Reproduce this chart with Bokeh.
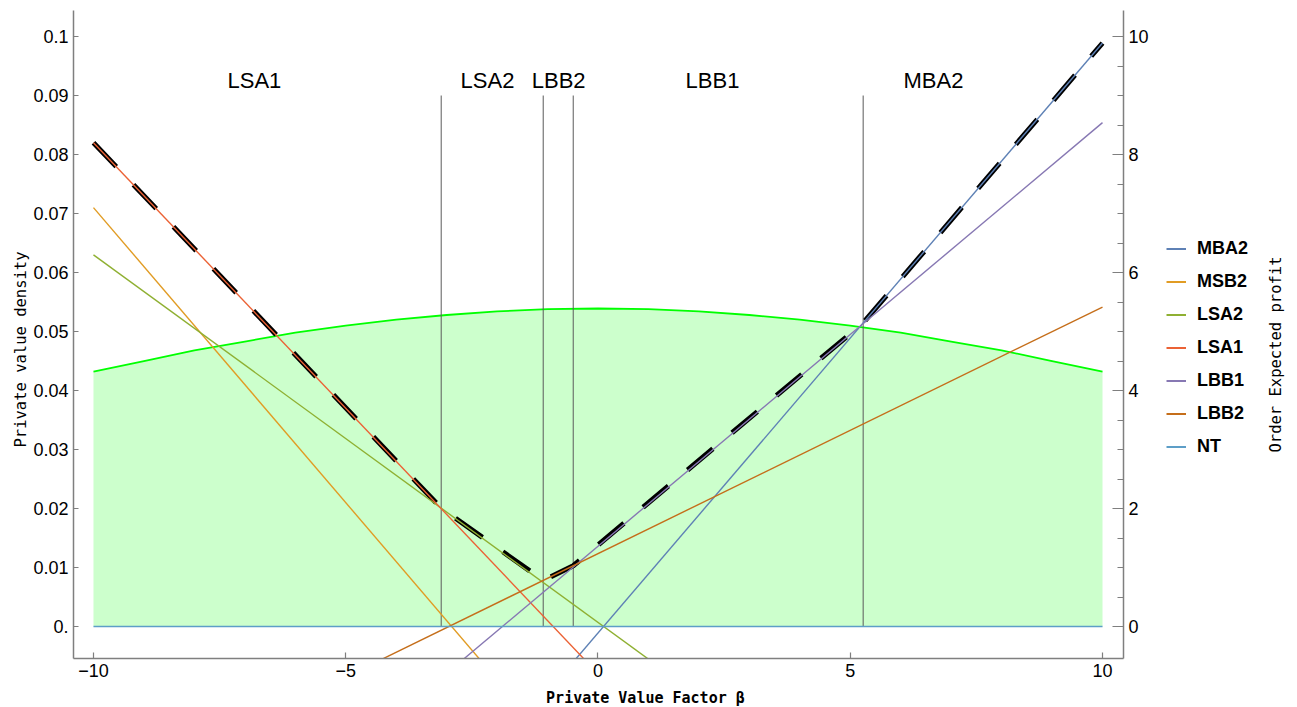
import math
from bokeh.plotting import figure
from bokeh.layouts import row, column
from bokeh.models import (Range1d, LinearAxis, FixedTicker, Legend, LegendItem,
                          Title, Label, ColumnDataSource)
from bokeh.embed import file_html
from bokeh.resources import INLINE
from bokeh.core.properties import value

# ---------------- data ----------------
strategies = ["MBA2", "MSB2", "LSA2", "LSA1", "LBB1", "LBB2", "NT"]
colors = ["#5E81B5", "#E19C24", "#8FB032", "#EB6235", "#8778B3", "#C56E1A", "#5D9EC7"]
beta_ends = [-10, 10]
# expected profit of each strategy at beta = -10 and beta = +10 (lines are straight)
profit_at_start = [-10.11, 7.10, 6.30, 8.20, -5.82, -2.945, 0.0]
profit_at_end = [9.89, -12.90, -6.16, -9.80, 8.54, 5.415, 0.0]

density_beta = [-10, -9, -8, -7, -6, -5, -4, -3, -2, -1, 0,
                1, 2, 3, 4, 5, 6, 7, 8, 9, 10]
density_values = [0.0432, 0.0450, 0.0468, 0.0483, 0.0498, 0.0510, 0.0520,
                  0.0528, 0.0534, 0.0538, 0.0539, 0.0538, 0.0534, 0.0528,
                  0.0520, 0.0510, 0.0498, 0.0483, 0.0468, 0.0450, 0.0432]

region_names = ["LSA1", "LSA2", "LBB2", "LBB1", "MBA2"]
region_label_beta = [-6.81, -2.19, -0.78, 2.27, 6.65]
region_bounds = [-3.108, -1.086, -0.491, 5.256]
bound_top = 0.09
region_label_y = 0.0925

x_ticks = [-10, -5, 0, 5, 10]
x_tick_labels = ["\u221210", "\u22125", "0", "5", "10"]
left_ticks = [0, 0.01, 0.02, 0.03, 0.04, 0.05, 0.06, 0.07, 0.08, 0.09, 0.1]
left_tick_labels = ["0.", "0.01", "0.02", "0.03", "0.04", "0.05", "0.06",
                    "0.07", "0.08", "0.09", "0.1"]
right_ticks = [0, 2, 4, 6, 8, 10]
right_tick_labels = ["0", "2", "4", "6", "8", "10"]
right_minor_ticks = [0.5, 1, 1.5, 2.5, 3, 3.5, 4.5, 5, 5.5, 6.5, 7, 7.5,
                     8.5, 9, 9.5]


def profit(i, b):
    s, e = profit_at_start[i], profit_at_end[i]
    return s + (e - s) * (b - beta_ends[0]) / (beta_ends[1] - beta_ends[0])


env_x = [beta_ends[0]] + region_bounds + [beta_ends[1]]
env_y = [max(profit(i, b) for i in range(len(strategies))) for b in env_x]

# ---------------- geometry (pixels) ----------------
W, H = 1297, 707
H_STRIP = 22                 # strip at the bottom for the x-axis title
H1 = H - H_STRIP             # height of the upper row
W1 = 1153                    # main figure width; the rest holds legend + right title
F_LEFT, F_RIGHT, F_TOP, F_BOTTOM = 73, 1123, 10, 658

# ---------------- main figure ----------------
xr = Range1d(-10.396, 10.416)
p = figure(width=W1, height=H1, x_range=xr,
           y_range=Range1d(-0.005424, 0.10441),
           output_backend="svg", toolbar_location=None,
           min_border_left=F_LEFT, min_border_right=W1 - F_RIGHT,
           min_border_top=F_TOP, min_border_bottom=H1 - F_BOTTOM)
p.extra_y_ranges = {"profit": Range1d(-0.5424, 10.441)}
p.outline_line_color = None
p.xgrid.visible = False
p.ygrid.visible = False
p.background_fill_color = "white"

AX_COL = "#7f7f7f"
TICK_FONT = "Liberation Sans"
LAB_FONT = "DejaVu Sans Mono"

xa = p.xaxis[0]
xa.ticker = FixedTicker(ticks=x_ticks, minor_ticks=[])
xa.major_label_overrides = dict(zip(x_ticks, x_tick_labels))
xa.major_tick_in = 6
xa.major_tick_out = 0
xa.minor_tick_line_color = None
xa.major_label_standoff = 5

ya = p.yaxis[0]
ya.ticker = FixedTicker(ticks=left_ticks, minor_ticks=[])
ya.major_label_overrides = dict(zip(left_ticks, left_tick_labels))
ya.major_tick_in = 5
ya.major_tick_out = 0
ya.minor_tick_line_color = None
ya.major_label_standoff = 5

ra = LinearAxis(y_range_name="profit",
                ticker=FixedTicker(ticks=right_ticks, minor_ticks=right_minor_ticks))
ra.major_label_overrides = dict(zip(right_ticks, right_tick_labels))
ra.major_tick_in = 11
ra.major_tick_out = 0
ra.minor_tick_in = 6
ra.minor_tick_out = 0
ra.major_label_standoff = 5
p.add_layout(ra, "right")

for ax in (xa, ya, ra):
    ax.axis_line_color = AX_COL
    ax.axis_line_width = 1.5
    ax.major_tick_line_color = AX_COL
    ax.major_tick_line_width = 1.2
    ax.minor_tick_line_width = 1.2
    ax.major_label_text_font = TICK_FONT
    ax.major_label_text_font_size = "18px"
    ax.major_label_text_color = "black"
ra.minor_tick_line_color = AX_COL

# density area
p.varea(x=density_beta, y1=[0] * len(density_beta), y2=density_values,
        fill_color="#ccffcc")
p.line(x=density_beta, y=density_values, line_color="#00ff00", line_width=1.8)

# region boundaries
p.segment(x0=region_bounds, y0=[0] * len(region_bounds),
          x1=region_bounds, y1=[bound_top] * len(region_bounds),
          line_color="#5a5a5a", line_width=1.0)

# envelope (dashed black)
p.line(x=env_x, y=env_y, y_range_name="profit", line_color="black",
       line_width=5, line_dash="33 25")

# strategy lines
for i, name in enumerate(strategies):
    ys = [profit(i, b) for b in beta_ends]
    p.line(x=beta_ends, y=ys, y_range_name="profit",
           line_color=colors[i], line_width=1.4)

# region labels
src = ColumnDataSource(dict(x=region_label_beta,
                            y=[region_label_y] * len(region_names),
                            t=region_names))
p.text(x="x", y="y", text="t", source=src, text_align="center",
       text_baseline="middle", text_font=value("Liberation Sans"),
       text_font_size="22px", text_color="black")

# left axis title
p.add_layout(Title(text="Private value density", align="left", offset=211,
                   text_font=LAB_FONT, text_font_size="15.5px",
                   text_font_style="normal", text_color="black",
                   standoff=2), "left")

# ---------------- side figure: legend + right title ----------------
W2 = W - W1
q = figure(width=W2, height=H1, x_range=Range1d(0, W2),
           y_range=Range1d(0, F_BOTTOM - F_TOP),
           output_backend="svg", toolbar_location=None,
           x_axis_type=None, y_axis_type=None,
           min_border_left=0, min_border_right=0,
           min_border_top=F_TOP, min_border_bottom=H1 - F_BOTTOM)
q.outline_line_color = None
q.xgrid.visible = False
q.ygrid.visible = False

nan = float("nan")
items = []
for i, name in enumerate(strategies):
    r = q.line(x=[nan, nan], y=[nan, nan], line_color=colors[i], line_width=2)
    items.append(LegendItem(label=name, renderers=[r]))
legend = Legend(items=items, location=(13, 201.5))
legend.label_text_font = "Liberation Sans"
legend.label_text_font_style = "bold"
legend.label_text_font_size = "18px"
legend.label_text_color = "black"
legend.glyph_width = 20
legend.glyph_height = 21
legend.label_height = 21
legend.spacing = 12
legend.padding = 0
legend.margin = 0
legend.label_standoff = 11
legend.border_line_color = None
legend.background_fill_alpha = 0
q.add_layout(legend)

q.add_layout(Label(x=1275 - W1, y=F_BOTTOM - 354, text="Order Expected profit",
                   angle=math.pi / 2, text_align="center", text_baseline="middle",
                   text_font=LAB_FONT, text_font_size="15.5px",
                   text_color="black"))

# ---------------- bottom strip: x-axis title ----------------
s = figure(width=W, height=H_STRIP, x_range=xr, y_range=Range1d(0, H_STRIP),
           output_backend="svg", toolbar_location=None,
           x_axis_type=None, y_axis_type=None,
           min_border_left=F_LEFT, min_border_right=W - F_RIGHT,
           min_border_top=0, min_border_bottom=0)
s.outline_line_color = None
s.xgrid.visible = False
s.ygrid.visible = False
s.add_layout(Label(x=0.94, y=9.5, text="Private Value Factor \u03b2",
                   text_align="center", text_baseline="middle",
                   text_font=LAB_FONT, text_font_size="15px",
                   text_font_style="bold", text_color="black"))

layout = column(row(p, q), s)
open("out.html", "w").write(file_html(layout, INLINE))
